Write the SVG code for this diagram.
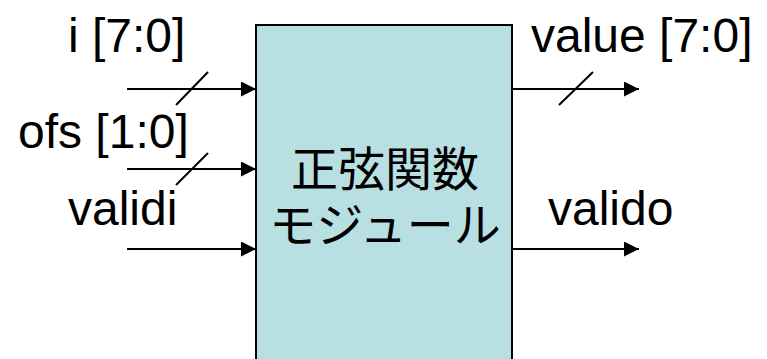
<svg xmlns="http://www.w3.org/2000/svg" width="767" height="359" viewBox="0 0 767 359">
<style>
.lbl{font-family:"Liberation Sans",Arial,sans-serif;font-size:48px;fill:#000}
.jp{font-family:"Noto Sans CJK JP","Noto Sans CJK SC",sans-serif;font-size:47px;fill:#000;text-anchor:middle}
.wire{stroke:#000;stroke-width:2;fill:none}
</style>
<defs>
<marker id="ah" markerUnits="userSpaceOnUse" markerWidth="16" markerHeight="16" refX="15" refY="7.5" orient="auto">
<path d="M0,0 L15,7.5 L0,15 z" fill="#000"/>
</marker>
</defs>
<g id="module">
<rect x="256" y="25" width="256" height="345" fill="#B8DFE2" stroke="#000" stroke-width="2"/>
<text class="jp"><tspan x="385" y="186">正弦関数</tspan><tspan x="385" y="242">モジュール</tspan></text>
</g>
<g id="labels">
<text class="lbl" x="68" y="52">i [7:0]</text>
<text class="lbl" x="18" y="148">ofs [1:0]</text>
<text class="lbl" x="68" y="225">validi</text>
<text class="lbl" x="531" y="52">value [7:0]</text>
<text class="lbl" x="548" y="225">valido</text>
</g>
<g id="connectors">
<line class="wire" x1="127" y1="89" x2="256" y2="89" marker-end="url(#ah)"/>
<line class="wire" x1="176" y1="105" x2="208" y2="72"/>
<line class="wire" x1="127" y1="169" x2="256" y2="169" marker-end="url(#ah)"/>
<line class="wire" x1="176" y1="185" x2="208" y2="153"/>
<line class="wire" x1="127" y1="249" x2="256" y2="249" marker-end="url(#ah)"/>
<line class="wire" x1="512" y1="89" x2="639" y2="89" marker-end="url(#ah)"/>
<line class="wire" x1="559" y1="105" x2="593" y2="72"/>
<line class="wire" x1="512" y1="249" x2="639" y2="249" marker-end="url(#ah)"/>
</g>
</svg>
